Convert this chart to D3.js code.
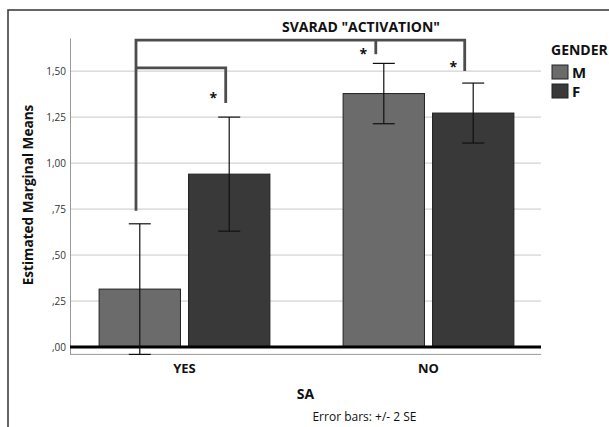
<!DOCTYPE html>
<html>
<head>
<meta charset="utf-8">
<script src="https://cdn.jsdelivr.net/npm/d3@7"></script>
<style>
  body { margin: 0; background: #fff; }
  svg { display: block; font-family: "Open Sans", sans-serif; }
</style>
</head>
<body>
<div id="chart"></div>
<script>
// chart values
var categories = ["YES", "NO"];
var genders = ["M", "F"];
var meansM = [0.315, 1.378];
var meansF = [0.94, 1.272];
var twoSeM = [0.355, 0.164];
var twoSeF = [0.31, 0.163];
var yTicks = [0, 0.25, 0.5, 0.75, 1.0, 1.25, 1.5];
var genderColors = ["#6b6b6b", "#393939"];

var width = 609,
  height = 427,
  plotLeft = 70,
  plotRight = 541;

var svg = d3.select("#chart").append("svg")
  .attr("width", width)
  .attr("height", height);

// outer frame
svg.append("path")
  .attr("d", "M8,427 L8,10 L609,10")
  .style("fill", "none")
  .style("stroke", "#333")
  .style("stroke-width", "1.5px");

var y = d3.scaleLinear()
  .domain([-0.04, 1.68])
  .range([354.4, 38]);

var x0 = d3.scaleBand()
  .domain(categories)
  .range([62.5, 550.5])
  .paddingInner(0.3)
  .paddingOuter(0.15);

var x1 = d3.scaleBand()
  .domain(genders)
  .range([0, x0.bandwidth()])
  .paddingInner(0.09);

function barCenter(cat, g) {
  return x0(cat) + x1(g) + x1.bandwidth() / 2;
}

// build rows from the arrays
var rows = [];
categories.forEach(function(c, i) {
  rows.push({cat: c, g: "M", value: meansM[i], err: twoSeM[i]});
  rows.push({cat: c, g: "F", value: meansF[i], err: twoSeF[i]});
});

var fmt = function(d) {
  return d3.format(".2f")(d).replace(".", ",").replace(/^0/, "");
};

// gridlines
svg.append("g").selectAll("line")
    .data(yTicks.filter(function(d) { return d !== 0; }))
    .enter()
  .append("line")
    .attr("x1", plotLeft)
    .attr("x2", plotRight)
    .attr("y1", function(d) { return y(d); })
    .attr("y2", function(d) { return y(d); })
    .style("stroke", "#c8c8c8")
    .style("stroke-width", "1px");

// y axis
var yAxis = svg.append("g")
  .attr("transform", "translate(" + plotLeft + ",0)")
  .call(d3.axisLeft(y).tickValues(yTicks).tickFormat(fmt).tickSize(0).tickPadding(4));
yAxis.select(".domain").style("stroke", "#999").style("stroke-width", "1px");
yAxis.selectAll("text")
  .style("font-family", "Open Sans, sans-serif")
  .style("font-size", "10px")
  .style("fill", "#333");

// bottom axis line
svg.append("line")
  .attr("x1", plotLeft)
  .attr("x2", plotRight)
  .attr("y1", y.range()[0])
  .attr("y2", y.range()[0])
  .style("stroke", "#999")
  .style("stroke-width", "1px");

// bars
svg.append("g").selectAll("rect")
    .data(rows)
    .enter()
  .append("rect")
    .attr("x", function(d) { return x0(d.cat) + x1(d.g); })
    .attr("width", x1.bandwidth())
    .attr("y", function(d) { return y(d.value); })
    .attr("height", function(d) { return y(0) - y(d.value); })
    .style("fill", function(d) { return genderColors[genders.indexOf(d.g)]; })
    .style("stroke", "#222")
    .style("stroke-width", "1px");

// zero line
svg.append("line")
  .attr("x1", plotLeft)
  .attr("x2", plotRight)
  .attr("y1", y(0))
  .attr("y2", y(0))
  .style("stroke", "#000")
  .style("stroke-width", "3px");

// error bars
var capW = 22;
var eb = svg.append("g").selectAll("g")
    .data(rows)
    .enter()
  .append("g")
    .style("stroke", "#111")
    .style("stroke-width", "1.2px");
eb.append("line")
  .attr("x1", function(d) { return barCenter(d.cat, d.g); })
  .attr("x2", function(d) { return barCenter(d.cat, d.g); })
  .attr("y1", function(d) { return y(d.value + d.err); })
  .attr("y2", function(d) { return y(d.value - d.err); });
eb.append("line")
  .attr("x1", function(d) { return barCenter(d.cat, d.g) - capW / 2; })
  .attr("x2", function(d) { return barCenter(d.cat, d.g) + capW / 2; })
  .attr("y1", function(d) { return y(d.value + d.err); })
  .attr("y2", function(d) { return y(d.value + d.err); });
eb.append("line")
  .attr("x1", function(d) { return barCenter(d.cat, d.g) - capW / 2; })
  .attr("x2", function(d) { return barCenter(d.cat, d.g) + capW / 2; })
  .attr("y1", function(d) { return y(d.value - d.err); })
  .attr("y2", function(d) { return y(d.value - d.err); });

// significance brackets (legs given as bar + small pixel nudge)
var bx = function(cat, g, nudge) { return barCenter(cat, g) + nudge; };
var bigLeft = bx("YES", "M", -3.8), bigRight = bx("NO", "F", -8.5), bigMid = bx("NO", "M", -8);
var smallRight = bx("YES", "F", -3.5);

var brackets = [
  [[bigLeft, 0.741], [bigLeft, 1.668], [bigRight, 1.668], [bigRight, 1.50]],
  [[bigMid, 1.668], [bigMid, 1.592]],
  [[bigLeft, 1.518], [smallRight, 1.518], [smallRight, 1.326]]
];
var line = d3.line()
  .x(function(d) { return d[0]; })
  .y(function(d) { return y(d[1]); });

svg.append("g").selectAll("path")
    .data(brackets)
    .enter()
  .append("path")
    .attr("d", line)
    .style("fill", "none")
    .style("stroke", "#4d4d4d")
    .style("stroke-width", "2.8px");

var stars = [[bigMid - 12.5, 1.611], [bigRight - 11.5, 1.538], [smallRight - 12.5, 1.37]];
svg.append("g").selectAll("text")
    .data(stars)
    .enter()
  .append("text")
    .attr("x", function(d) { return d[0]; })
    .attr("y", function(d) { return y(d[1]) + 8; })
    .attr("text-anchor", "middle")
    .style("font-size", "14px")
    .style("font-weight", "bold")
    .style("fill", "#111")
    .text("*");

// title
svg.append("text")
  .attr("x", 361)
  .attr("y", 32)
  .attr("text-anchor", "middle")
  .style("font-size", "14px")
  .style("font-weight", "bold")
  .style("fill", "#111")
  .text('SVARAD "ACTIVATION"');

// category labels
svg.append("g").selectAll("text")
    .data(categories)
    .enter()
  .append("text")
    .attr("x", function(d) { return x0(d) + x0.bandwidth() / 2; })
    .attr("y", 372.5)
    .attr("text-anchor", "middle")
    .style("font-size", "13px")
    .style("font-weight", "bold")
    .style("fill", "#111")
    .text(function(d) { return d; });

svg.append("text")
  .attr("x", (plotLeft + plotRight) / 2)
  .attr("y", 399)
  .attr("text-anchor", "middle")
  .style("font-size", "14px")
  .style("font-weight", "bold")
  .style("fill", "#111")
  .text("SA");

svg.append("text")
  .attr("x", 364.5)
  .attr("y", 421)
  .attr("text-anchor", "middle")
  .style("font-size", "12px")
  .style("fill", "#111")
  .text("Error bars: +/- 2 SE");

svg.append("text")
  .attr("transform", "translate(32.5,195) rotate(-90)")
  .attr("text-anchor", "middle")
  .style("font-size", "13.6px")
  .style("font-weight", "bold")
  .style("fill", "#111")
  .text("Estimated Marginal Means");

// legend
var legend = svg.append("g").attr("transform", "translate(552,0)");
legend.append("text")
  .attr("x", -1)
  .attr("y", 55)
  .style("font-size", "14px")
  .style("font-weight", "bold")
  .style("fill", "#111")
  .text("GENDER");
var items = legend.selectAll("g.item")
    .data(genders)
    .enter()
  .append("g")
    .attr("class", "item")
    .attr("transform", function(d, i) { return "translate(0," + (65 + i * 19) + ")"; });
items.append("rect")
  .attr("width", 16)
  .attr("height", 14)
  .style("fill", function(d, i) { return genderColors[i]; })
  .style("stroke", "#222")
  .style("stroke-width", "1px");
items.append("text")
  .attr("x", 20)
  .attr("y", 13)
  .style("font-size", "15px")
  .style("font-weight", "bold")
  .style("fill", "#111")
  .text(function(d) { return d; });
</script>
</body>
</html>
